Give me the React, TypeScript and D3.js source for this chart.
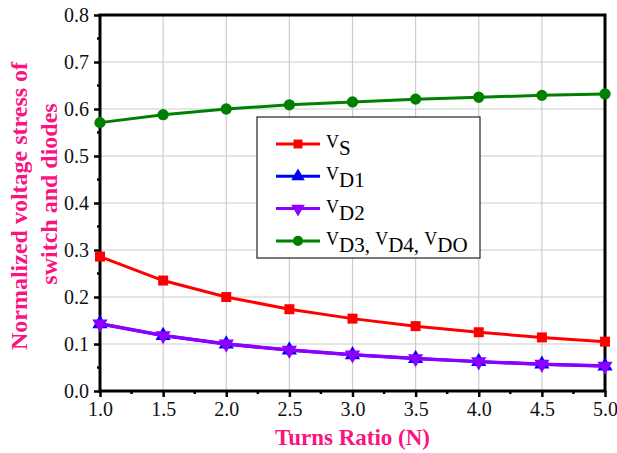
import React, { useRef, useEffect } from "react";
import * as d3 from "d3";

const turns = [1.0, 1.5, 2.0, 2.5, 3.0, 3.5, 4.0, 4.5, 5.0];
const vS = [0.286, 0.235, 0.2, 0.174, 0.154, 0.138, 0.125, 0.114, 0.105];
const vD1 = [0.143, 0.118, 0.1, 0.087, 0.077, 0.069, 0.0625, 0.057, 0.053];
const vD2 = [0.143, 0.118, 0.1, 0.087, 0.077, 0.069, 0.0625, 0.057, 0.053];
const vD3 = [0.571, 0.588, 0.6, 0.609, 0.615, 0.621, 0.625, 0.629, 0.632];
const xTicks = [1.0, 1.5, 2.0, 2.5, 3.0, 3.5, 4.0, 4.5, 5.0];
const yTicks = [0.0, 0.1, 0.2, 0.3, 0.4, 0.5, 0.6, 0.7, 0.8];

const seriesNames = [["S"], ["D1"], ["D2"], ["D3", "D4", "DO"]];
const seriesColors = ["#ff0000", "#0000ff", "#8b00ff", "#008000"];
const seriesSymbols = ["square", "triangle", "invtriangle", "circle"];

const pink = "#fa1482";
const font = "'Liberation Serif', 'Times New Roman', serif";

function App() {
  const svgRef = useRef<SVGSVGElement>(null);

  useEffect(() => {
    const svg = d3.select(svgRef.current);
    svg.selectAll("*").remove();

    const width = 617;
    const height = 453;
    const left = 100, right = 605, top = 15, bottom = 391;

    svg.attr("width", width).attr("height", height)
      .style("position", "absolute").style("left", 0).style("top", 0)
      .style("background", "#fff").style("font-family", font);

    const x = d3.scaleLinear().domain([1, 5]).range([left, right]);
    const y = d3.scaleLinear().domain([0, 0.8]).range([bottom, top]);

    // grid
    const grid = svg.append("g").attr("stroke", "#cccccc").attr("stroke-width", 1.2);
    xTicks.slice(1, -1).forEach(t => {
      grid.append("line").attr("x1", x(t)).attr("x2", x(t)).attr("y1", top).attr("y2", bottom);
    });
    yTicks.slice(1, -1).forEach(t => {
      grid.append("line").attr("x1", left).attr("x2", right).attr("y1", y(t)).attr("y2", y(t));
    });

    // axes
    const xAxis = d3.axisBottom(x).tickValues(xTicks).tickFormat(d3.format(".1f")).tickSize(6).tickPadding(5);
    const yAxis = d3.axisLeft(y).tickValues(yTicks).tickFormat(d3.format(".1f")).tickSize(6).tickPadding(5);

    const gx = svg.append("g").attr("transform", `translate(0,${bottom})`).call(xAxis);
    const gy = svg.append("g").attr("transform", `translate(${left},0)`).call(yAxis);
    [gx, gy].forEach(g => {
      g.attr("font-family", null).attr("font-size", null);
      g.select(".domain").remove();
      g.selectAll(".tick line").attr("stroke", "#000").attr("stroke-width", 2.5);
      g.selectAll(".tick text").style("font-family", font).style("font-size", "20px").attr("fill", "#111");
    });

    // minor ticks
    const minor = svg.append("g").attr("stroke", "#000").attr("stroke-width", 2.5);
    d3.range(0.05, 0.8, 0.1).forEach(t => {
      minor.append("line").attr("x1", left).attr("x2", left - 3).attr("y1", y(t)).attr("y2", y(t));
    });
    d3.range(1.25, 5, 0.5).forEach(t => {
      minor.append("line").attr("x1", x(t)).attr("x2", x(t)).attr("y1", bottom).attr("y2", bottom + 3);
    });

    // frame
    svg.append("rect").attr("x", left).attr("y", top).attr("width", right - left).attr("height", bottom - top)
      .attr("fill", "none").attr("stroke", "#000").attr("stroke-width", 3);

    const symbolFor = (s: string, size: number) => {
      if (s === "square") return d3.symbol().type(d3.symbolSquare).size(size)();
      if (s === "circle") return d3.symbol().type(d3.symbolCircle).size(size)();
      return d3.symbol().type(d3.symbolTriangle).size(size)();
    };

    const line = d3.line<number>().x((d, i) => x(turns[i])).y(d => y(d));
    const allSeries = [vS, vD1, vD2, vD3];
    const widths = [3, 3, 3.5, 3];

    allSeries.forEach((data, si) => {
      const g = svg.append("g");
      g.append("path").datum(data).attr("d", line).attr("fill", "none")
        .attr("stroke", seriesColors[si]).attr("stroke-width", widths[si]);
      g.selectAll("path.m").data(data).join("path").attr("class", "m")
        .attr("d", () => symbolFor(seriesSymbols[si], 100))
        .attr("transform", (d, i) => `translate(${x(turns[i])},${y(d)})${seriesSymbols[si] === "invtriangle" ? " rotate(180)" : ""}`)
        .attr("fill", seriesColors[si]);
    });

    // legend
    const lg = svg.append("g");
    lg.append("rect").attr("x", 257).attr("y", 117).attr("width", 223).attr("height", 141)
      .attr("fill", "#fff").attr("stroke", "#222").attr("stroke-width", 1.2);
    seriesNames.forEach((parts, si) => {
      const ly = 144 + si * 32.3;
      lg.append("line").attr("x1", 276).attr("x2", 320).attr("y1", ly).attr("y2", ly)
        .attr("stroke", seriesColors[si]).attr("stroke-width", 3);
      lg.append("path").attr("d", symbolFor(seriesSymbols[si], 80))
        .attr("transform", `translate(298,${ly})${seriesSymbols[si] === "invtriangle" ? " rotate(180)" : ""}`)
        .attr("fill", seriesColors[si]);
      const t = lg.append("text").attr("x", 326).attr("y", ly + 11)
        .style("font-family", font).style("font-size", "21px").attr("fill", "#000");
      parts.forEach((p, pi) => {
        if (pi > 0) t.append("tspan").attr("dy", 0).style("font-size", "21px").text(", ");
        t.append("tspan").style("font-size", "18px").attr("dy", -7).text("V");
        t.append("tspan").style("font-size", "21px").attr("dy", 7).text(p);
      });
    });

    // axis titles
    svg.append("text").attr("x", (left + right) / 2).attr("y", 445).attr("text-anchor", "middle")
      .style("font-family", font).attr("font-weight", "bold").style("font-size", "23px").attr("fill", pink)
      .text("Turns Ratio (N)");
    svg.append("text").attr("transform", `translate(27,206) rotate(-90)`).attr("text-anchor", "middle")
      .style("font-family", font).attr("font-weight", "bold").style("font-size", "24px").attr("fill", pink)
      .text("Normalized voltage stress of");
    svg.append("text").attr("transform", `translate(57,194) rotate(-90)`).attr("text-anchor", "middle")
      .style("font-family", font).attr("font-weight", "bold").style("font-size", "24px").attr("fill", pink)
      .text("switch and diodes");
  }, []);

  return (
    <div>
      <svg ref={svgRef}></svg>
    </div>
  );
}

export default App;
